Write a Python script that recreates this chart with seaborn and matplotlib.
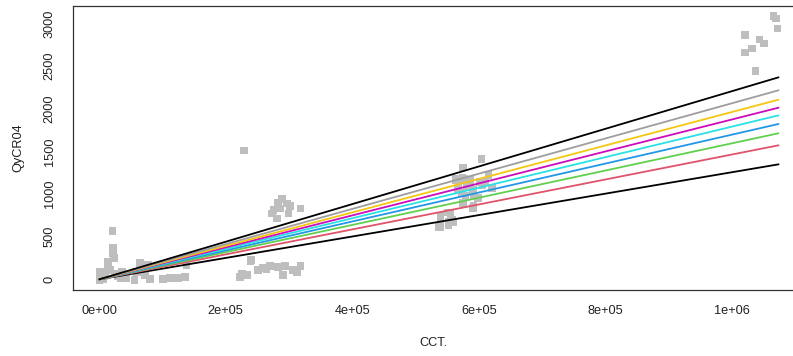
import numpy as np
import pandas as pd
import matplotlib
matplotlib.use("Agg")
import matplotlib.pyplot as plt
import seaborn as sns

# ---- data ----
cct = [0, 1100, 6000, 9000, 13800, 17000, 20600, 21700, 21700, 23400, 25000, 33000,
       1100, 7400, 29600, 35900, 42200, 13800,
       56000, 59600, 64500, 72000, 77000, 80000, 100800, 112000, 124500, 135600, 138000,
       222600, 225300, 225800, 233700, 239000, 240000, 229000,
       259000, 264000, 270000, 282800, 290700, 293800, 306500, 312800, 251000, 317600,
       272800, 275300, 280700, 285900, 288600, 296500, 299000, 317600, 301700, 282800,
       539000, 539000, 552000, 555000, 560000, 564000, 566000, 575000, 575000, 577000,
       587000, 591000, 591000, 599000, 602000, 604000, 615500, 621000,
       562800, 573900, 586600, 567600, 580200, 605500, 610300, 572300, 578600, 591300,
       591300, 550300, 558200, 539200, 551900, 536100,
       1021000, 1021000, 1032000, 1038000, 1044000, 1051000, 1066000, 1070000, 1072000]
qycr04 = [-8, 50, 0, 85, 203, 109, 566, 367, 308, 250, 62, 15,
          85, 39, 39, 85, 15, 132,
          -8, 86, 191, 50, 168, 3, 3, 15, 15, 27, 160,
          27, 50, 62, 50, 215, 226, 1507,
          132, 121, 156, 144, 50, 156, 109, 86, 109, 156,
          774, 812, 715, 832, 941, 891, 774, 832, 859, 894,
          742, 613, 672, 766, 672, 1164, 1047, 1308, 894, 1176,
          1129, 1047, 836, 953, 1140, 1410, 1223, 1070,
          1176, 1188, 1164, 1105, 1094, 1105, 1141, 1012, 977, 989,
          859, 780, 697, 650, 637, 613,
          2864, 2661, 2708, 2442, 2813, 2767, 3087, 3060, 2943]

# fitted lines: start at (0, 0), values at the right end
line_x_end = 1074000
line_y_end = [1348, 1571, 1712, 1821, 1922, 2012, 2106, 2216, 2368]
line_colors = ["black", "#DF536B", "#61D04F", "#2297E6", "#28E2E5",
               "#CD0BBC", "#F5C710", "#9E9E9E", "black"]

xticks = [0, 200000, 400000, 600000, 800000, 1000000]
xticklabels = ["0e+00", "2e+05", "4e+05", "6e+05", "8e+05", "1e+06"]
yticks = [0, 500, 1000, 1500, 2000, 2500, 3000]

# ---- plot ----
sns.set_style("white")
plt.rcParams["font.family"] = ["Liberation Sans", "DejaVu Sans"]

W, H = 793, 356
fig = plt.figure(figsize=(W / 100, H / 100), dpi=100)
left, right, top, bottom = 72.5, 795, 6, 290
ax = fig.add_axes([left / W, (H - bottom) / H, (right - left) / W, (bottom - top) / H])

pts = pd.DataFrame({"CCT": cct, "QyCR04": qycr04})
sns.scatterplot(data=pts, x="CCT", y="QyCR04", ax=ax, marker="s", s=28,
                color="#BEBEBE", edgecolor="none", linewidth=0, zorder=2)

for yend, col in zip(line_y_end, line_colors):
    d = pd.DataFrame({"x": [0, line_x_end], "y": [0, yend]})
    sns.lineplot(data=d, x="x", y="y", ax=ax, color=col, linewidth=1.3,
                 estimator=None, zorder=3)

ax.set_xlim(-42400, 1100000)
ax.set_ylim(-125, 3204)
ax.set_xticks(xticks)
ax.set_xticklabels(xticklabels)
ax.set_yticks(yticks)
ax.set_yticklabels([str(v) for v in yticks], rotation=90, va="center")
ax.tick_params(axis="both", direction="out", length=5, width=0.8,
               color="#444444", labelsize=9.2, labelcolor="#222222")
ax.tick_params(axis="x", pad=6)
ax.tick_params(axis="y", pad=7)
for sp in ax.spines.values():
    sp.set_color("#333333")
    sp.set_linewidth(0.9)
    sp.set_visible(True)
ax.set_xlabel("CCT.", fontsize=9.2, color="#222222", labelpad=14)
ax.set_ylabel("QyCR04", fontsize=9.2, color="#222222", labelpad=14)
ax.grid(False)

fig.savefig("out.png", dpi=100)
